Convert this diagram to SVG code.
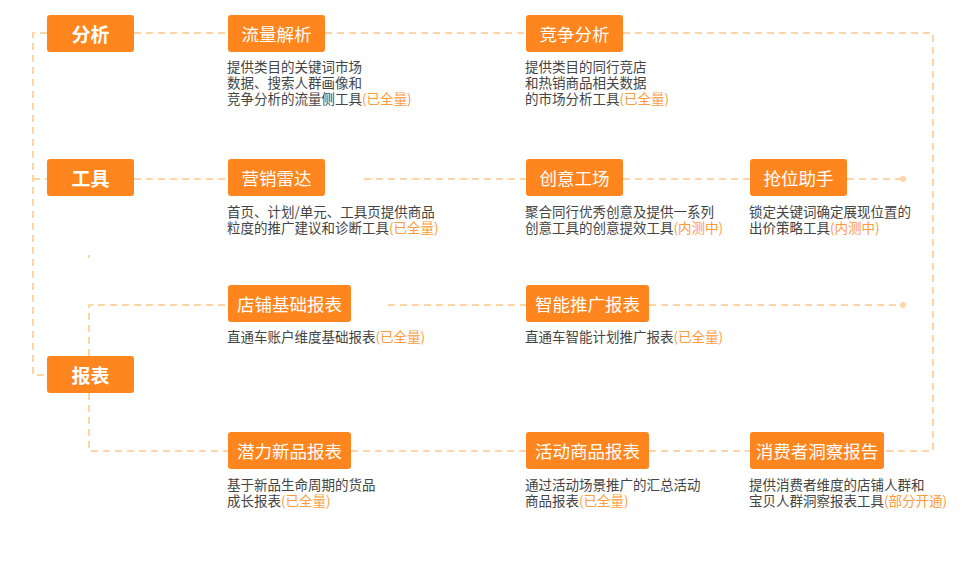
<svg xmlns="http://www.w3.org/2000/svg" width="966" height="563" viewBox="0 0 966 563">
<style>
.bx{fill:#FF851E}
.bt{fill:#fff;font-family:"Noto Sans CJK SC","Liberation Sans",sans-serif;font-size:17.5px;text-anchor:middle;dominant-baseline:central}
.bl{fill:#fff;font-family:"Noto Sans CJK SC","Liberation Sans",sans-serif;font-size:19px;font-weight:bold;text-anchor:middle;dominant-baseline:central}
.d{fill:#444;font-family:"Noto Sans CJK SC","Liberation Sans",sans-serif;font-size:13.5px}
.h{fill:#FF9B3A}
.ln{fill:none;stroke:#FFD4A6;stroke-width:2;stroke-dasharray:7 5}
.dot{fill:#FFD4A6}
</style>
<rect width="966" height="563" fill="#fff"/>
<g id="connectors">
<path class="ln" d="M47 33H33V375H47"/>
<path class="ln" d="M134 33H228"/>
<path class="ln" d="M325 33H526"/>
<path class="ln" d="M623 33H933V451H884"/>
<path class="ln" d="M33 179H47"/>
<path class="ln" d="M134 179H228"/>
<path class="ln" d="M364 179H526"/>
<path class="ln" d="M623 179H750"/>
<path class="ln" d="M847 179H903"/>
<circle class="dot" cx="903" cy="179" r="3"/>
<path class="ln" d="M89 356V305H228"/>
<path class="ln" d="M388 305H526"/>
<path class="ln" d="M649 305H903"/>
<circle class="dot" cx="903" cy="305" r="3"/>
<path class="ln" d="M89 393V451H228"/>
<path class="ln" d="M351 451H526"/>
<path class="ln" d="M649 451H750"/>
<path fill="none" stroke="#FFD4A6" stroke-width="2" d="M89 255V258"/>
</g>
<g id="n-fenxi"><rect class="bx" x="47" y="15" width="87" height="37" rx="3"/><text class="bl" x="90.5" y="33.5">分析</text></g>
<g id="n-gongju"><rect class="bx" x="47" y="159" width="87" height="37" rx="3"/><text class="bl" x="90.5" y="177.5">工具</text></g>
<g id="n-baobiao"><rect class="bx" x="47" y="356" width="87" height="37" rx="3"/><text class="bl" x="90.5" y="374.5">报表</text></g>

<g id="n-liuliang"><rect class="bx" x="228" y="15" width="97" height="37" rx="3"/><text class="bt" x="276.5" y="33.5">流量解析</text>
<text class="d" x="227" y="72">提供类目的关键词市场</text>
<text class="d" x="227" y="88">数据、搜索人群画像和</text>
<text class="d" x="227" y="104">竞争分析的流量侧工具<tspan class="h">(已全量)</tspan></text></g>

<g id="n-jingzheng"><rect class="bx" x="526" y="15" width="97" height="37" rx="3"/><text class="bt" x="574.5" y="33.5">竞争分析</text>
<text class="d" x="525" y="72">提供类目的同行竞店</text>
<text class="d" x="525" y="88">和热销商品相关数据</text>
<text class="d" x="525" y="104">的市场分析工具<tspan class="h">(已全量)</tspan></text></g>

<g id="n-yingxiao"><rect class="bx" x="228" y="159" width="97" height="37" rx="3"/><text class="bt" x="276.5" y="177.5">营销雷达</text>
<text class="d" x="227" y="217">首页、计划/单元、工具页提供商品</text>
<text class="d" x="227" y="233">粒度的推广建议和诊断工具<tspan class="h">(已全量)</tspan></text></g>

<g id="n-chuangyi"><rect class="bx" x="526" y="159" width="97" height="37" rx="3"/><text class="bt" x="574.5" y="177.5">创意工场</text>
<text class="d" x="525" y="217">聚合同行优秀创意及提供一系列</text>
<text class="d" x="525" y="233">创意工具的创意提效工具<tspan class="h">(内测中)</tspan></text></g>

<g id="n-qiangwei"><rect class="bx" x="750" y="159" width="97" height="37" rx="3"/><text class="bt" x="798.5" y="177.5">抢位助手</text>
<text class="d" x="749" y="217">锁定关键词确定展现位置的</text>
<text class="d" x="749" y="233">出价策略工具<tspan class="h">(内测中)</tspan></text></g>

<g id="n-dianpu"><rect class="bx" x="228" y="285" width="123" height="37" rx="3"/><text class="bt" x="289.5" y="303.5">店铺基础报表</text>
<text class="d" x="227" y="342">直通车账户维度基础报表<tspan class="h">(已全量)</tspan></text></g>

<g id="n-zhineng"><rect class="bx" x="526" y="285" width="123" height="37" rx="3"/><text class="bt" x="587.5" y="303.5">智能推广报表</text>
<text class="d" x="525" y="342">直通车智能计划推广报表<tspan class="h">(已全量)</tspan></text></g>

<g id="n-qianli"><rect class="bx" x="228" y="432" width="123" height="37" rx="3"/><text class="bt" x="289.5" y="450.5">潜力新品报表</text>
<text class="d" x="227" y="490">基于新品生命周期的货品</text>
<text class="d" x="227" y="506">成长报表<tspan class="h">(已全量)</tspan></text></g>

<g id="n-huodong"><rect class="bx" x="526" y="432" width="123" height="37" rx="3"/><text class="bt" x="587.5" y="450.5">活动商品报表</text>
<text class="d" x="525" y="490">通过活动场景推广的汇总活动</text>
<text class="d" x="525" y="506">商品报表<tspan class="h">(已全量)</tspan></text></g>

<g id="n-xiaofei"><rect class="bx" x="750" y="432" width="134" height="37" rx="3"/><text class="bt" x="817" y="450.5">消费者洞察报告</text>
<text class="d" x="749" y="490">提供消费者维度的店铺人群和</text>
<text class="d" x="749" y="506">宝贝人群洞察报表工具<tspan class="h">(部分开通)</tspan></text></g>
</svg>
